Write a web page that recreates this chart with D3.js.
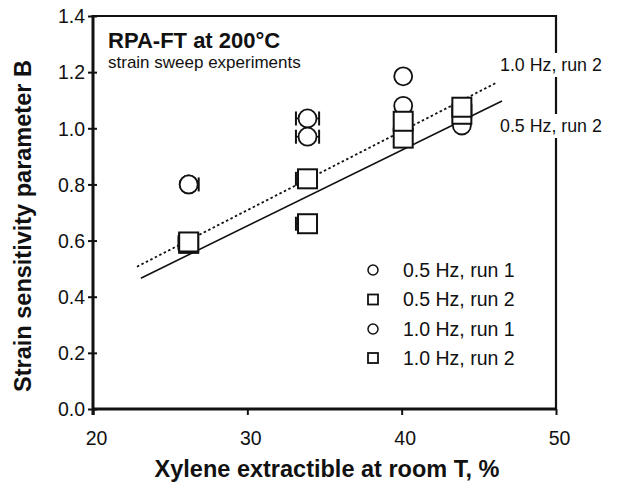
<!DOCTYPE html>
<html>
<head>
<meta charset="utf-8">
<script src="https://cdn.jsdelivr.net/npm/d3@7/dist/d3.min.js"></script>
<style>
  html, body { margin: 0; padding: 0; background: #fff; }
  svg { display: block; font-family: "Liberation Sans", Arial, Helvetica, sans-serif; }
</style>
</head>
<body>
<svg id="chart" width="618" height="484"></svg>
<script>
// ---------------- data ----------------
const xValues = [26.2, 33.9, 40.1, 43.9];              // xylene extractible, %
const b05run1 = [0.80, 1.035, 1.185, 1.02];            // circles
const b10run1 = [0.80, 0.97, 1.08, 1.01];              // circles
const b05run2 = [0.59, 0.66, 0.965, 1.05];             // squares
const b10run2 = [0.595, 0.82, 1.025, 1.075];           // squares
// horizontal error bars (low / high side), in x units
const err05run1Lo = [0, 0.75, 0, 0], err05run1Hi = [0.65, 0.75, 0, 0];
const err10run1Lo = [0, 0.75, 0, 0], err10run1Hi = [0, 0.75, 0, 0];
const err05run2Lo = [0.65, 0.75, 0, 0], err05run2Hi = [0, 0.6, 0, 0];
const err10run2Lo = [0.65, 0.75, 0, 0], err10run2Hi = [0, 0.6, 0, 0];
// fitted lines (end points)
const fit10run2 = [[22.85, 0.507], [46.2, 1.164]];     // dotted
const fit05run2 = [[23.1, 0.466], [46.5, 1.097]];      // solid
const xTicks = [20, 30, 40, 50];
const yTicks = [0, 0.2, 0.4, 0.6, 0.8, 1.0, 1.2, 1.4];
const legendLabels = ["0.5 Hz, run 1", "0.5 Hz, run 2", "1.0 Hz, run 1", "1.0 Hz, run 2"];
const legendShapes = ["circle", "square", "circle", "square"];
const title = "RPA-FT at 200°C";
const subtitle = "strain sweep experiments";
const xTitle = "Xylene extractible at room T, %";
const yTitle = "Strain sensitivity parameter B";
const fitLabels = ["1.0 Hz, run 2", "0.5 Hz, run 2"];

// ---------------- layout ----------------
const svg = d3.select("#chart");
const L = 93, R = 556, T = 16, B = 409;
const x = d3.scaleLinear().domain([20, 50]).range([L, R]);
const y = d3.scaleLinear().domain([0, 1.4]).range([B, T]);

svg.append("rect").attr("width", 618).attr("height", 484).attr("fill", "#fff");

// frame (top and right)
svg.append("path")
  .attr("d", `M${L},${T}H${R}V${B}`)
  .attr("fill", "none").attr("stroke", "#111").attr("stroke-width", 2.2);

// fit lines
const line = d3.line().x(d => x(d[0])).y(d => y(d[1]));
svg.append("path").datum(fit10run2).attr("d", line)
  .attr("fill", "none").attr("stroke", "#111").attr("stroke-width", 1.8)
  .attr("stroke-dasharray", "2.5,2.5");
svg.append("path").datum(fit05run2).attr("d", line)
  .attr("fill", "none").attr("stroke", "#111").attr("stroke-width", 1.6);

// axes
const xAxis = d3.axisBottom(x).tickValues(xTicks).tickSize(6).tickFormat(d3.format("d"));
const gx = svg.append("g").attr("transform", `translate(0,${B})`).call(xAxis);
gx.select(".domain").remove();
gx.append("line").attr("x1", L).attr("x2", R).attr("stroke", "#111").attr("stroke-width", 3);
gx.selectAll(".tick line").attr("stroke", "#111").attr("stroke-width", 2);
gx.selectAll(".tick text").attr("font-size", 19.5).attr("fill", "#111")
  .attr("font-family", "Liberation Sans, Arial, sans-serif").attr("dx", 3).attr("y", 22);

const yAxis = d3.axisLeft(y).tickValues(yTicks).tickSize(6).tickFormat(d3.format(".1f"));
const gy = svg.append("g").attr("transform", `translate(${L},0)`).call(yAxis);
gy.select(".domain").remove();
gy.append("line").attr("y1", T - 1).attr("y2", B + 6).attr("stroke", "#111").attr("stroke-width", 3);
gy.selectAll(".tick line").attr("stroke", "#111").attr("stroke-width", 2).attr("x2", 4).attr("x1", -5);
gy.selectAll(".tick text").attr("font-size", 19.5).attr("fill", "#111")
  .attr("font-family", "Liberation Sans, Arial, sans-serif").attr("x", -8).attr("dy", "0.35em");

// series
const series = [
  { v: b05run1, lo: err05run1Lo, hi: err05run1Hi, shape: "circle" },
  { v: b10run1, lo: err10run1Lo, hi: err10run1Hi, shape: "circle" },
  { v: b05run2, lo: err05run2Lo, hi: err05run2Hi, shape: "square" },
  { v: b10run2, lo: err10run2Lo, hi: err10run2Hi, shape: "square" }
];
const capH = 7;
series.forEach(s => {
  const g = svg.append("g");
  xValues.forEach((xv, i) => {
    const cy = y(s.v[i]);
    if (s.lo[i] > 0) {
      g.append("line").attr("x1", x(xv - s.lo[i])).attr("x2", x(xv)).attr("y1", cy).attr("y2", cy)
        .attr("stroke", "#111").attr("stroke-width", 1.5);
      g.append("line").attr("x1", x(xv - s.lo[i])).attr("x2", x(xv - s.lo[i]))
        .attr("y1", cy - capH).attr("y2", cy + capH).attr("stroke", "#111").attr("stroke-width", 2);
    }
    if (s.hi[i] > 0) {
      g.append("line").attr("x1", x(xv)).attr("x2", x(xv + s.hi[i])).attr("y1", cy).attr("y2", cy)
        .attr("stroke", "#111").attr("stroke-width", 1.5);
      g.append("line").attr("x1", x(xv + s.hi[i])).attr("x2", x(xv + s.hi[i]))
        .attr("y1", cy - capH).attr("y2", cy + capH).attr("stroke", "#111").attr("stroke-width", 2);
    }
    if (s.shape === "circle") {
      g.append("circle").attr("cx", x(xv)).attr("cy", cy).attr("r", 9)
        .attr("fill", "#fff").attr("stroke", "#111").attr("stroke-width", 1.8);
    } else {
      g.append("rect").attr("x", x(xv) - 9.5).attr("y", cy - 9.5).attr("width", 19).attr("height", 19)
        .attr("fill", "#fff").attr("stroke", "#111").attr("stroke-width", 2);
    }
  });
});

// title texts
svg.append("text").attr("x", 108).attr("y", 48).attr("font-size", 22).attr("font-weight", "bold")
  .attr("fill", "#111").text(title);
svg.append("text").attr("x", 108).attr("y", 68).attr("font-size", 17)
  .attr("fill", "#111").text(subtitle);

// fit labels (with white background breaking the frame)
const fitLabelY = [71, 132];
fitLabels.forEach((t, i) => {
  const tx = svg.append("text").attr("x", 500).attr("y", fitLabelY[i]).attr("font-size", 17.8)
    .attr("fill", "#111").text(t);
  const bb = tx.node().getBBox();
  svg.insert("rect", () => tx.node())
    .attr("x", bb.x - 2).attr("y", bb.y - 2).attr("width", bb.width + 4).attr("height", bb.height + 4)
    .attr("fill", "#fff");
});

// legend
const legY = [270, 299.5, 329, 358];
legendLabels.forEach((t, i) => {
  const cy = legY[i];
  if (legendShapes[i] === "circle") {
    svg.append("circle").attr("cx", 373).attr("cy", cy).attr("r", 5)
      .attr("fill", "#fff").attr("stroke", "#111").attr("stroke-width", 1.5);
  } else {
    svg.append("rect").attr("x", 368).attr("y", cy - 5).attr("width", 10).attr("height", 10)
      .attr("fill", "#fff").attr("stroke", "#111").attr("stroke-width", 1.8);
  }
  svg.append("text").attr("x", 403).attr("y", cy).attr("dy", "0.35em").attr("font-size", 19.5)
    .attr("fill", "#111").text(t);
});

// axis titles
svg.append("text").attr("x", 327).attr("y", 477).attr("text-anchor", "middle")
  .attr("font-size", 23.5).attr("font-weight", "bold").attr("fill", "#111").text(xTitle);
svg.append("text").attr("transform", "translate(31,226) rotate(-90)").attr("text-anchor", "middle")
  .attr("font-size", 23.5).attr("font-weight", "bold").attr("fill", "#111").text(yTitle);
</script>
</body>
</html>
